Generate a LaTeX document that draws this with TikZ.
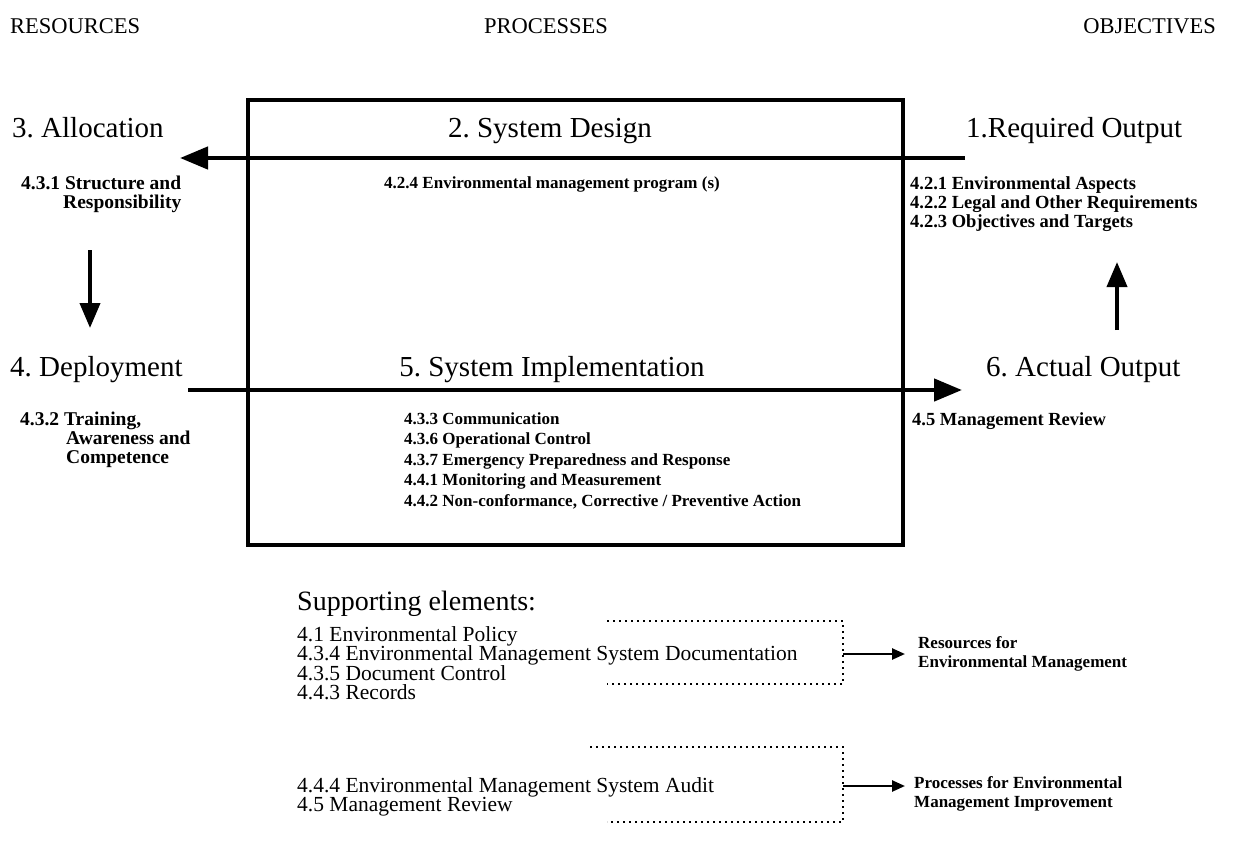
\documentclass[tikz,border=0pt]{standalone}
\usepackage{fontspec}
\setmainfont{Liberation Serif}
\usetikzlibrary{arrows.meta}
\frenchspacing
\setlength{\lineskiplimit}{-100pt}
\begin{document}
\begin{tikzpicture}[x=1pt,y=-1pt,
  heading/.style={font=\fontsize{22.5}{24}\selectfont, inner sep=0pt},
  stage/.style={font=\fontsize{29}{32}\selectfont, inner sep=0pt},
  clause/.style={font=\bfseries\fontsize{18.5}{19}\selectfont, inner sep=0pt, align=left},
  sideclause/.style={font=\bfseries\fontsize{19.5}{19}\selectfont, inner sep=0pt, align=left},
  clauselist/.style={font=\bfseries\fontsize{17}{20.5}\selectfont, inner sep=0pt, align=left},
  support/.style={font=\fontsize{21.5}{19.5}\selectfont, inner sep=0pt, align=left},
  supporthead/.style={font=\fontsize{28}{30}\selectfont, inner sep=0pt},
  result/.style={font=\bfseries\fontsize{17}{19}\selectfont, inner sep=0pt, align=left},
  frame/.style={line width=4pt},
  bigarrow/.style={line width=4.5pt, -{Triangle[length=28pt,width=22pt]}},
  midarrow/.style={line width=4pt, -{Triangle[length=25pt,width=20pt]}},
  smallarrow/.style={line width=2.5pt, -{Triangle[length=13pt,width=11pt]}},
  bracket/.style={line width=2pt, dash pattern=on 2pt off 4pt},
]
\useasboundingbox[fill=white] (0,0) rectangle (1247,852);

% column headings
\node[heading, anchor=base west] (res)  at (10,33)   {RESOURCES};
\node[heading, anchor=base]      (proc) at (546,33)  {PROCESSES};
\node[heading, anchor=base east] (obj)  at (1216,33) {OBJECTIVES};

% process frame
\draw[frame] (248,100) rectangle (903,545);

% stage titles
\node[stage, anchor=base west] (alloc)    at (12,137)  {3. Allocation};
\node[stage, anchor=base]      (design)   at (550,137) {2. System Design};
\node[stage, anchor=base west] (required) at (966,137) {1.Required Output};
\node[stage, anchor=base west] (deploy)   at (10,376)  {4. Deployment};
\node[stage, anchor=base]      (impl)     at (552,376) {5. System Implementation};
\node[stage, anchor=base west] (actual)   at (986,376) {6. Actual Output};

% clauses under each stage
\node[sideclause, anchor=north west] (c431) at (21,176)
  {4.3.1 Structure and\\\hspace*{42pt}Responsibility};
\node[clauselist, anchor=north] (c424) at (552,176)
  {4.2.4 Environmental management program (s)};
\node[clause, anchor=north west] (c42x) at (910,176)
  {4.2.1 Environmental Aspects\\4.2.2 Legal and Other Requirements\\4.2.3 Objectives and Targets};
\node[sideclause, anchor=north west] (c432) at (20,412)
  {4.3.2 Training,\\\hspace*{46pt}Awareness and\\\hspace*{46pt}Competence};
\node[clauselist, anchor=north west] (c43x) at (404,412)
  {4.3.3 Communication\\4.3.6 Operational Control\\4.3.7 Emergency Preparedness and Response\\4.4.1 Monitoring and Measurement\\4.4.2 Non-conformance, Corrective / Preventive Action};
\node[clause, anchor=north west] (c45) at (912,412) {4.5 Management Review};

% flow arrows
\coordinate (designin)  at (965,158);
\coordinate (designout) at (180,158);
\coordinate (alloctail) at (90,250);
\coordinate (deployhead) at (90,328);
\coordinate (impltail)  at (188,390);
\coordinate (implhead)  at (962,390);
\coordinate (actualtail) at (1117,330);
\coordinate (requiredhead) at (1117,262);
\draw[bigarrow] (designin) -- (designout);
\draw[midarrow] (alloctail) -- (deployhead);
\draw[bigarrow] (impltail) -- (implhead);
\draw[midarrow] (actualtail) -- (requiredhead);

% supporting elements
\node[supporthead, anchor=base west] (supp) at (297,610) {Supporting elements:};
\node[support, anchor=north west] (grp1) at (297,626)
  {4.1 Environmental Policy\\4.3.4 Environmental Management System Documentation\\4.3.5 Document Control\\4.4.3 Records};
\node[support, anchor=north west] (grp2) at (297,777)
  {4.4.4 Environmental Management System Audit\\4.5 Management Review};

\coordinate (b1tl) at (607,621);
\coordinate (b1tr) at (843,621);
\coordinate (b1br) at (843,684);
\coordinate (b1bl) at (607,684);
\coordinate (b1mid) at (843,654);
\coordinate (b1tip) at (905,654);
\coordinate (b2tl) at (590,747);
\coordinate (b2tr) at (843,747);
\coordinate (b2br) at (843,822);
\coordinate (b2bl) at (607,822);
\coordinate (b2mid) at (843,786);
\coordinate (b2tip) at (905,786);
\draw[bracket] (b1tl) -- (b1tr) -- (b1br) -- (b1bl);
\draw[bracket] (b2tl) -- (b2tr) -- (b2br) -- (b2bl);

\node[result, anchor=north west] (res1) at (918,636)
  {Resources for\\Environmental Management};
\node[result, anchor=north west] (res2) at (914,776)
  {Processes for Environmental\\Management Improvement};
\draw[smallarrow] (b1mid) -- (b1tip);
\draw[smallarrow] (b2mid) -- (b2tip);
\end{tikzpicture}
\end{document}
